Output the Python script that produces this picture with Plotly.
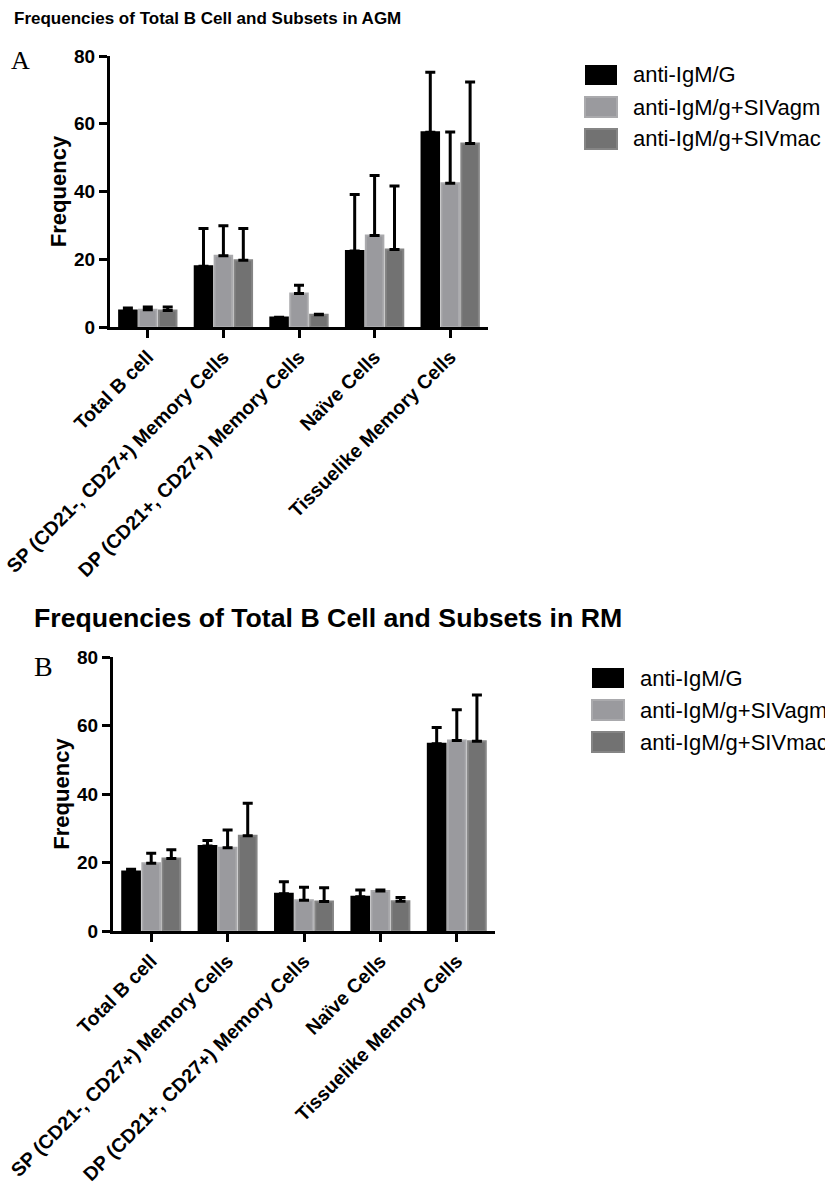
import plotly.graph_objects as go

# Cell populations on the x axis
categories = [
    "Total B cell",
    "SP (CD21-, CD27+) Memory Cells",
    "DP (CD21+, CD27+) Memory Cells",
    "Naïve Cells",
    "Tissuelike Memory Cells",
]
series_names = ["anti-IgM/G", "anti-IgM/g+SIVagm", "anti-IgM/g+SIVmac"]

# Panel A: AGM (mean frequency and upper error)
agm_igmg = [4.9, 17.9, 2.8, 22.4, 57.5]
agm_igmg_err = [0.7, 11.2, 0.1, 16.7, 17.7]
agm_sivagm = [5.1, 21.0, 9.9, 27.0, 42.4]
agm_sivagm_err = [0.8, 8.9, 2.4, 17.7, 15.2]
agm_sivmac = [4.9, 19.7, 3.6, 22.9, 54.2]
agm_sivmac_err = [1.0, 9.4, 0.2, 18.7, 18.1]

# Panel B: RM (mean frequency and upper error)
rm_igmg = [17.4, 24.8, 10.9, 10.0, 54.7]
rm_igmg_err = [0.6, 1.6, 3.5, 2.0, 4.7]
rm_sivagm = [19.8, 24.3, 9.0, 11.7, 55.6]
rm_sivagm_err = [2.9, 5.2, 3.8, 0.3, 9.0]
rm_sivmac = [21.2, 27.8, 8.6, 8.7, 55.4]
rm_sivmac_err = [2.5, 9.5, 4.0, 1.1, 13.5]

y_ticks = [0, 20, 40, 60, 80]

W, H = 825, 1192
fill_colors = ["#000000", "#9a9a9e", "#727272"]
edge_colors = ["#000000", "#aaaaad", "#858585"]
SANS = "Liberation Sans"


def px_x(x):
    return x / W


def px_y(y):
    return 1 - y / H


fig = go.Figure()

panels = [
    ("x", "y", [agm_igmg, agm_sivagm, agm_sivmac],
     [agm_igmg_err, agm_sivagm_err, agm_sivmac_err]),
    ("x2", "y2", [rm_igmg, rm_sivagm, rm_sivmac],
     [rm_igmg_err, rm_sivagm_err, rm_sivmac_err]),
]
for xa, ya, values, errors in panels:
    for i, name in enumerate(series_names):
        fig.add_trace(go.Bar(
            x=categories, y=values[i], name=name, xaxis=xa, yaxis=ya,
            showlegend=False,
            marker=dict(color=fill_colors[i],
                        line=dict(color=edge_colors[i], width=2)),
            error_y=dict(type="data", array=errors[i], symmetric=False,
                         arrayminus=[0] * len(errors[i]),
                         color="black", thickness=3, width=5),
        ))

axis_common = dict(
    showline=True, linecolor="black", linewidth=3, mirror=False,
    showgrid=False, zeroline=False, ticks="outside", ticklen=8,
    tickwidth=3, tickcolor="black", automargin=False,
)
xaxis_common = dict(axis_common, type="category", range=[-0.5, 4.5],
                    tickangle=-45,
                    tickfont=dict(family=SANS, size=19.5, color="black",
                                  weight="bold"))
yaxis_common = dict(axis_common, range=[0, 80], tickvals=y_ticks,
                    tickfont=dict(family=SANS, size=19, color="black",
                                  weight="bold"),
                    title=dict(text="Frequency", standoff=2,
                               font=dict(family=SANS, size=22, color="black",
                                         weight="bold")))

fig.update_layout(
    width=W, height=H,
    margin=dict(l=0, r=0, t=0, b=0),
    paper_bgcolor="white", plot_bgcolor="white",
    barmode="group", bargap=0.21, bargroupgap=0.12,
    showlegend=False,
    xaxis=dict(xaxis_common, domain=[px_x(110), px_x(488)], anchor="y"),
    yaxis=dict(yaxis_common, domain=[px_y(327), px_y(56)], anchor="x"),
    xaxis2=dict(xaxis_common, domain=[px_x(113), px_x(495)], anchor="y2"),
    yaxis2=dict(yaxis_common, domain=[px_y(931), px_y(657)], anchor="x2"),
)

annotations = [
    dict(text="Frequencies of Total B Cell and Subsets in AGM",
         x=px_x(12), y=px_y(18), xanchor="left", yanchor="middle",
         font=dict(family=SANS, size=17, color="black", weight="bold")),
    dict(text="Frequencies of Total B Cell and Subsets in RM",
         x=px_x(32), y=px_y(618), xanchor="left", yanchor="middle",
         font=dict(family=SANS, size=26.7, color="black", weight="bold")),
    dict(text="A", x=px_x(9), y=px_y(61), xanchor="left", yanchor="middle",
         font=dict(family="Liberation Serif", size=26, color="black")),
    dict(text="B", x=px_x(32), y=px_y(666), xanchor="left", yanchor="middle",
         font=dict(family="Liberation Serif", size=28, color="black")),
]

shapes = []
# Legend blocks for both panels
legend_specs = [(585, [75, 107, 139]), (592, [678, 710, 742])]
for sx, rows in legend_specs:
    for i, (name, cy) in enumerate(zip(series_names, rows)):
        shapes.append(dict(
            type="rect", xref="paper", yref="paper",
            x0=px_x(sx), x1=px_x(sx + 32), y0=px_y(cy + 10), y1=px_y(cy - 10),
            fillcolor=fill_colors[i],
            line=dict(color=edge_colors[i], width=2 if i else 0),
        ))
        annotations.append(dict(
            text=name, x=px_x(sx + 46), y=px_y(cy), xanchor="left",
            yanchor="middle", showarrow=False,
            font=dict(family=SANS, size=22, color="black"),
        ))

for a in annotations:
    a.setdefault("showarrow", False)
    a["xref"] = "paper"
    a["yref"] = "paper"

fig.update_layout(annotations=annotations, shapes=shapes)
fig.write_html("out.html")
